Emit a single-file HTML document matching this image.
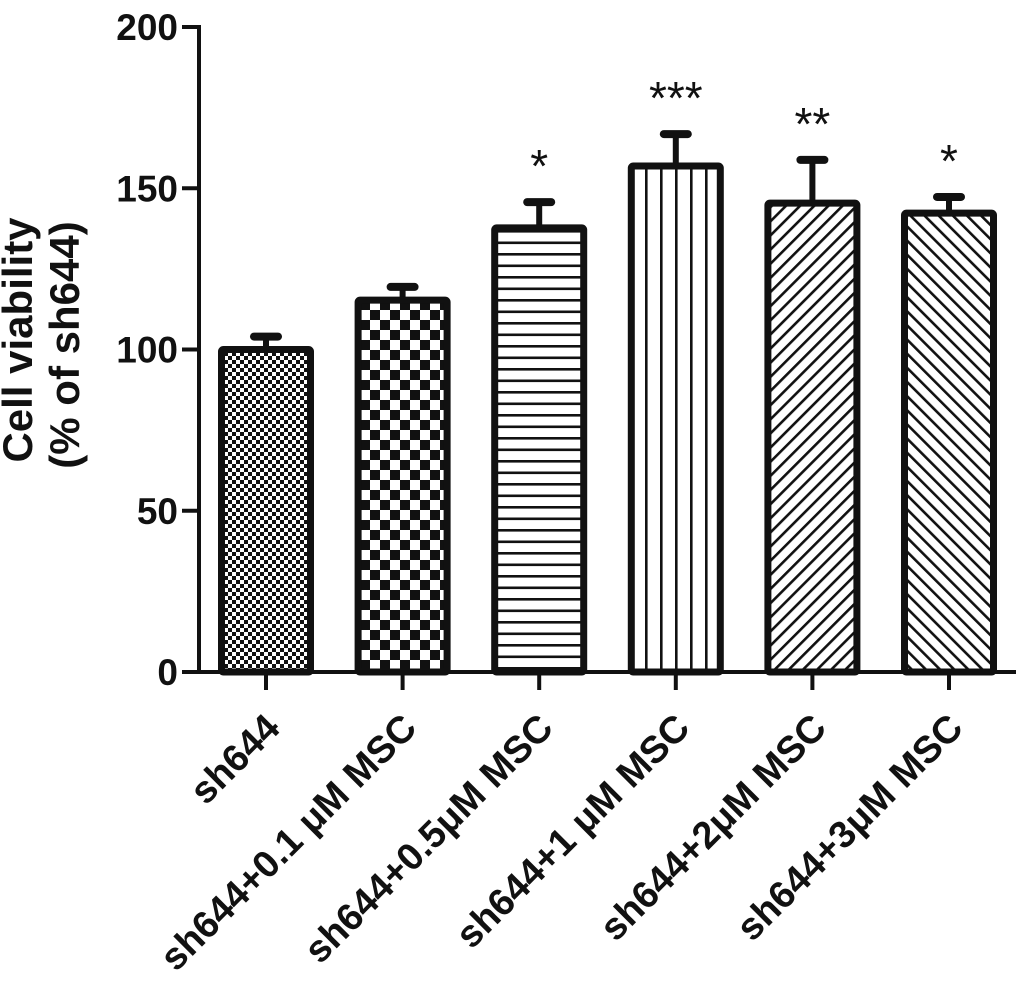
<!DOCTYPE html>
<html><head><meta charset="utf-8"><style>
html,body{margin:0;padding:0;background:#fff;}
svg{display:block;font-family:"Liberation Sans",Arial,sans-serif;font-weight:bold;}
</style></head><body>
<svg id="chart" width="1024" height="993" viewBox="0 0 1024 993" xmlns="http://www.w3.org/2000/svg">
<defs>
<pattern id="p0" width="8" height="8" patternUnits="userSpaceOnUse"><rect width="8" height="8" fill="#fff"/><rect width="4" height="4" fill="#111"/><rect x="4" y="4" width="4" height="4" fill="#111"/></pattern>
<pattern id="p1" width="20" height="20" patternUnits="userSpaceOnUse"><rect width="20" height="20" fill="#fff"/><rect width="10" height="10" fill="#111"/><rect x="10" y="10" width="10" height="10" fill="#111"/></pattern>
<pattern id="p2" width="12" height="11.5" patternUnits="userSpaceOnUse"><rect width="12" height="11.5" fill="#fff"/><rect y="0" width="12" height="2.6" fill="#111"/></pattern>
<pattern id="p3" width="15" height="12" patternUnits="userSpaceOnUse"><rect width="15" height="12" fill="#fff"/><rect x="0" width="2.6" height="12" fill="#111"/></pattern>
<pattern id="p4" width="10" height="10" patternUnits="userSpaceOnUse" patternTransform="rotate(45)"><rect width="10" height="10" fill="#fff"/><rect width="2.6" height="10" fill="#111"/></pattern>
<pattern id="p5" width="10" height="10" patternUnits="userSpaceOnUse" patternTransform="rotate(-45)"><rect width="10" height="10" fill="#fff"/><rect width="2.6" height="10" fill="#111"/></pattern>
</defs>
<g id="plot"></g>
<g>
<text transform="translate(32,340) rotate(-90)" text-anchor="middle" font-size="42" fill="#111">Cell viability</text>
<text transform="translate(79,345) rotate(-90)" text-anchor="middle" font-size="42" fill="#111">(% of sh644)</text>
</g>
</svg>
<script>
const categories = ["sh644","sh644+0.1 \u03bcM MSC","sh644+0.5\u03bcM MSC","sh644+1 \u03bcM MSC","sh644+2\u03bcM MSC","sh644+3\u03bcM MSC"];
const means = [100, 115.3, 137.7, 156.9, 145.4, 142.3];
const errors = [4, 4.1, 8, 9.9, 13.4, 5];
const stars = ["", "", "*", "***", "**", "*"];
const yTicks = [0, 50, 100, 150, 200];

const NS = "http://www.w3.org/2000/svg";
const g = document.getElementById("plot");
const y0 = 672, y200 = 27, axisX = 199, firstX = 266, step = 136.6;
function yScale(v){ return y0 - (v/200)*(y0-y200); }
function xScale(i){ return firstX + i*step; }
function mk(tag, attrs){ const e=document.createElementNS(NS,tag); for(const k in attrs) e.setAttribute(k,attrs[k]); g.appendChild(e); return e; }

categories.forEach((c,i)=>{
  const cx = xScale(i), top = yScale(means[i]), et = yScale(means[i]+errors[i]);
  const eb = mk("line",{x1:cx,x2:cx,y1:top,y2:et,stroke:"#111","stroke-width":6});
  
  
  const cap = mk("line",{x1:cx-12,x2:cx+12,y1:et,y2:et,stroke:"#111","stroke-width":8,"stroke-linecap":"round"});
  
  
  const r = mk("rect",{x:cx-44.5,y:top,width:89,height:y0-top,fill:"url(#p"+i+")",stroke:"#111","stroke-width":7,rx:2});
  
  
  if(stars[i]){
    const s = mk("text",{x:cx,y:et-20,"text-anchor":"middle","font-size":46,"font-weight":"normal",fill:"#111"});
    s.textContent = stars[i];
    
    
  }
  const t = mk("line",{x1:cx,x2:cx,y1:y0,y2:690,stroke:"#111","stroke-width":4});
  
  
  const lb = mk("text",{transform:"translate("+(cx+16)+",730) rotate(-45)","text-anchor":"end","font-size":38,fill:"#111"});
  lb.textContent = c;
  
  
});

const ya = mk("line",{x1:axisX,x2:axisX,y1:y200-2,y2:y0+2,stroke:"#111","stroke-width":4});


const xa = mk("line",{x1:182,x2:1016,y1:y0,y2:y0,stroke:"#111","stroke-width":4});


yTicks.forEach(v=>{
  const yy = yScale(v);
  const t = mk("line",{x1:182,x2:axisX,y1:yy,y2:yy,stroke:"#111","stroke-width":4});
  
  
  const l = mk("text",{x:178,y:yy+13,"text-anchor":"end","font-size":37,fill:"#111"});
  l.textContent = v;
  
  
});
</script>
</body></html>
